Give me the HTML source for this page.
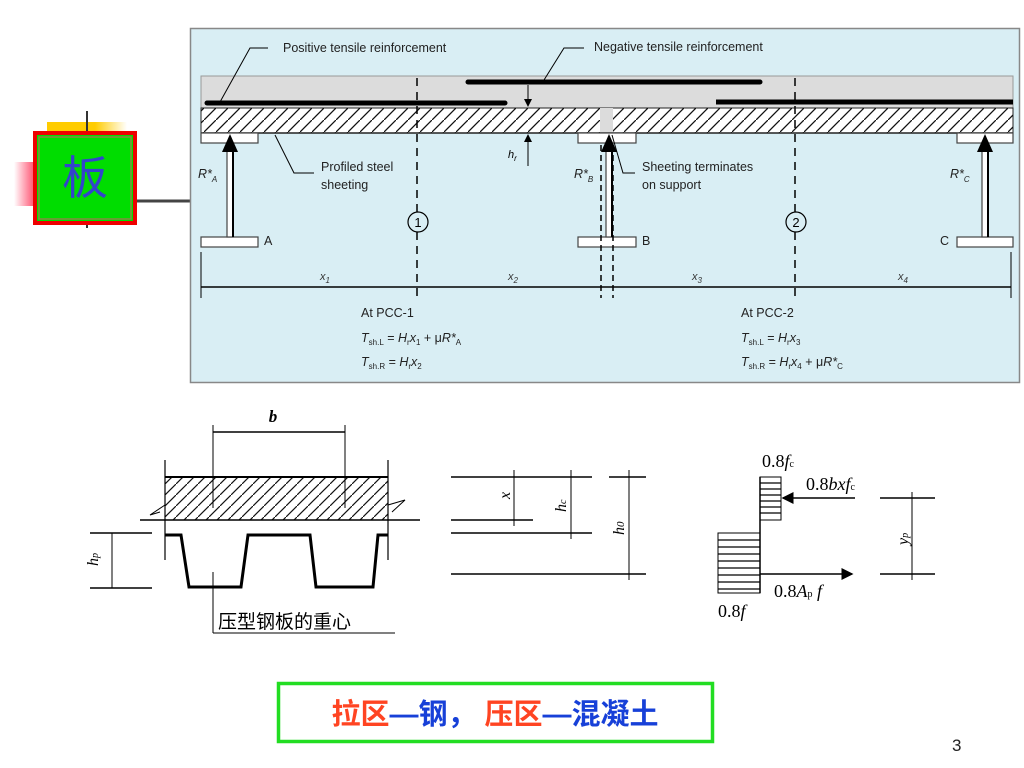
<!DOCTYPE html>
<html><head><meta charset="utf-8"><style>
body{margin:0;background:#fff}
svg{display:block}
text{font-family:"Liberation Sans","Noto Sans CJK SC",sans-serif}
text.s,.s text{font-family:"Liberation Serif","Noto Serif CJK SC",serif}
</style></head><body>
<svg width="1024" height="768" viewBox="0 0 1024 768" xmlns="http://www.w3.org/2000/svg">
<defs>
<pattern id="h" width="12" height="12" patternUnits="userSpaceOnUse">
<path d="M0,12 L12,0" stroke="#111" stroke-width="1.3"/>
</pattern>
<pattern id="h2" width="11" height="11" patternUnits="userSpaceOnUse">
<path d="M-1,12 L12,-1" stroke="#111" stroke-width="1.2"/>
</pattern>
<linearGradient id="pk" x1="1" x2="0"><stop offset="0" stop-color="#f46"/><stop offset="1" stop-color="#fff"/></linearGradient>
<linearGradient id="yl" x1="0" x2="1"><stop offset="0.6" stop-color="#fc0"/><stop offset="1" stop-color="#fff"/></linearGradient>
<marker id="ar" markerWidth="8" markerHeight="8" refX="7" refY="4" orient="auto"><path d="M0,0 L8,4 L0,8z" fill="#000"/></marker>
</defs>

<rect x="14" y="162" width="22" height="44" fill="url(#pk)"/>
<rect x="47" y="122" width="80" height="10" fill="url(#yl)"/>
<line x1="87" y1="111" x2="87" y2="228" stroke="#333" stroke-width="2"/>
<line x1="136" y1="201" x2="190" y2="201" stroke="#444" stroke-width="3"/>
<rect x="35" y="133" width="100" height="90" fill="#0d0" stroke="#e00" stroke-width="4"/>
<rect x="39" y="137" width="92" height="82" fill="none" stroke="#884" stroke-width="1.5"/>
<text x="85" y="194" font-size="46" fill="#3344cc" text-anchor="middle" font-family="Noto Sans CJK SC">板</text>

<rect x="190.5" y="28.5" width="829" height="354" fill="#d9eef4" stroke="#888" stroke-width="1.5"/>
<rect x="201" y="76" width="812" height="32" fill="#dcdcdc" stroke="#999"/>
<rect x="201" y="108" width="812" height="25" fill="#fff" stroke="#222"/>
<rect x="201" y="108" width="812" height="25" fill="url(#h)"/>
<rect x="600" y="108" width="13" height="25" fill="#dcdcdc"/>
<line x1="201" y1="133" x2="1013" y2="133" stroke="#222" stroke-width="1.5"/>
<line x1="207" y1="103" x2="505" y2="103" stroke="#000" stroke-width="5" stroke-linecap="round"/>
<line x1="716" y1="102" x2="1013" y2="102" stroke="#000" stroke-width="5"/>
<line x1="468" y1="82" x2="760" y2="82" stroke="#000" stroke-width="5" stroke-linecap="round"/>
<g fill="#fff" stroke="#444" stroke-width="1.2">
<rect x="201" y="133" width="57" height="10"/><rect x="578" y="133" width="58" height="10"/><rect x="957" y="133" width="56" height="10"/>
<rect x="201" y="237" width="57" height="10"/><rect x="578" y="237" width="58" height="10"/><rect x="957" y="237" width="56" height="10"/>
<rect x="227" y="150" width="6" height="87"/><rect x="606" y="150" width="6" height="87"/><rect x="982" y="150" width="6" height="87"/>
</g>
<g fill="#000"><path d="M222,152 L230,134 L238,152z"/><path d="M601,152 L609,134 L617,152z"/><path d="M977,152 L985,134 L993,152z"/></g>
<line x1="233" y1="150" x2="233" y2="237" stroke="#000" stroke-width="2"/>
<line x1="612" y1="150" x2="612" y2="237" stroke="#000" stroke-width="2"/>
<line x1="988" y1="150" x2="988" y2="237" stroke="#000" stroke-width="2"/>
<g stroke="#000" stroke-width="1.5" stroke-dasharray="6,4">
<line x1="601" y1="145" x2="601" y2="298"/><line x1="613" y1="145" x2="613" y2="298"/>
<line x1="417" y1="78" x2="417" y2="300" stroke-dasharray="8,6"/><line x1="795" y1="78" x2="795" y2="300" stroke-dasharray="8,6"/>
</g>
<circle cx="418" cy="222" r="10" fill="#d9eef4" stroke="#000" stroke-width="1.2"/>
<circle cx="796" cy="222" r="10" fill="#d9eef4" stroke="#000" stroke-width="1.2"/>
<text x="418" y="227" font-size="13" text-anchor="middle">1</text>
<text x="796" y="227" font-size="13" text-anchor="middle">2</text>
<line x1="201" y1="287" x2="1011" y2="287" stroke="#000" stroke-width="1.5"/>
<line x1="201" y1="252" x2="201" y2="298" stroke="#000"/>
<line x1="1011" y1="252" x2="1011" y2="298" stroke="#000"/>
<g font-size="11" font-style="italic" fill="#333"><text x="320" y="280">x<tspan font-size="8" dy="3">1</tspan></text><text x="508" y="280">x<tspan font-size="8" dy="3">2</tspan></text><text x="692" y="280">x<tspan font-size="8" dy="3">3</tspan></text><text x="898" y="280">x<tspan font-size="8" dy="3">4</tspan></text></g>
<line x1="528" y1="85" x2="528" y2="106" stroke="#000" marker-end="url(#ar)"/>
<line x1="528" y1="166" x2="528" y2="135" stroke="#000" marker-end="url(#ar)"/>
<text x="508" y="158" font-size="11" font-style="italic">h<tspan font-size="8" dy="3">r</tspan></text>
<path d="M268,48 L250,48 L220,102" fill="none" stroke="#000"/>
<path d="M584,48 L564,48 L544,80" fill="none" stroke="#000"/>
<path d="M314,173 L294,173 L275,135" fill="none" stroke="#000"/>
<path d="M635,173 L623,173 L612,135" fill="none" stroke="#000"/>
<g font-size="12.5" fill="#222">
<text x="283" y="52">Positive tensile reinforcement</text>
<text x="594" y="51">Negative tensile reinforcement</text>
<text x="321" y="171">Profiled steel</text><text x="321" y="189">sheeting</text>
<text x="642" y="171">Sheeting terminates</text><text x="642" y="189">on support</text>
<text x="264" y="245">A</text><text x="642" y="245">B</text><text x="940" y="245">C</text>
<text x="198" y="178" font-style="italic">R*<tspan font-size="8" dy="4">A</tspan></text>
<text x="574" y="178" font-style="italic">R*<tspan font-size="8" dy="4">B</tspan></text>
<text x="950" y="178" font-style="italic">R*<tspan font-size="8" dy="4">C</tspan></text>
<text x="361" y="317">At PCC-1</text>
<text x="361" y="342"><tspan font-style="italic">T</tspan><tspan font-size="8" dy="3">sh.L</tspan><tspan dy="-3"> = </tspan><tspan font-style="italic">H</tspan><tspan font-size="8" dy="3">r</tspan><tspan dy="-3" font-style="italic">x</tspan><tspan font-size="8" dy="3">1</tspan><tspan dy="-3"> + μ</tspan><tspan font-style="italic">R*</tspan><tspan font-size="8" dy="3">A</tspan></text>
<text x="361" y="366"><tspan font-style="italic">T</tspan><tspan font-size="8" dy="3">sh.R</tspan><tspan dy="-3"> = </tspan><tspan font-style="italic">H</tspan><tspan font-size="8" dy="3">r</tspan><tspan dy="-3" font-style="italic">x</tspan><tspan font-size="8" dy="3">2</tspan></text>
<text x="741" y="317">At PCC-2</text>
<text x="741" y="342"><tspan font-style="italic">T</tspan><tspan font-size="8" dy="3">sh.L</tspan><tspan dy="-3"> = </tspan><tspan font-style="italic">H</tspan><tspan font-size="8" dy="3">r</tspan><tspan dy="-3" font-style="italic">x</tspan><tspan font-size="8" dy="3">3</tspan></text>
<text x="741" y="366"><tspan font-style="italic">T</tspan><tspan font-size="8" dy="3">sh.R</tspan><tspan dy="-3"> = </tspan><tspan font-style="italic">H</tspan><tspan font-size="8" dy="3">r</tspan><tspan dy="-3" font-style="italic">x</tspan><tspan font-size="8" dy="3">4</tspan><tspan dy="-3"> + μ</tspan><tspan font-style="italic">R*</tspan><tspan font-size="8" dy="3">C</tspan></text>
</g>

<rect x="165" y="477" width="223" height="43" fill="url(#h2)"/>
<line x1="165" y1="477" x2="388" y2="477" stroke="#000" stroke-width="2"/>
<line x1="140" y1="520" x2="420" y2="520" stroke="#000" stroke-width="1.5"/>
<line x1="165" y1="460" x2="165" y2="560" stroke="#000" stroke-width="1.2"/>
<line x1="388" y1="460" x2="388" y2="560" stroke="#000" stroke-width="1.2"/>
<path d="M165,505 L150,515 L160,512" fill="none" stroke="#000"/>
<path d="M388,505 L405,500 L392,512" fill="none" stroke="#000"/>
<path d="M165,535 L181,535 L189,587 L241,587 L248,535 L310,535 L316,587 L373,587 L378,535 L388,535" fill="none" stroke="#000" stroke-width="3"/>
<line x1="213" y1="425" x2="213" y2="508" stroke="#000"/><line x1="345" y1="425" x2="345" y2="508" stroke="#000"/>
<line x1="213" y1="432" x2="345" y2="432" stroke="#000" stroke-width="1.5"/>
<text x="273" y="422" class="s" font-size="17" font-style="italic" font-weight="bold" text-anchor="middle">b</text>
<line x1="90" y1="533" x2="152" y2="533" stroke="#000" stroke-width="1.5"/>
<line x1="90" y1="588" x2="152" y2="588" stroke="#000" stroke-width="1.5"/>
<line x1="112" y1="533" x2="112" y2="588" stroke="#000"/>
<text x="98" y="566" class="s" font-size="16" font-style="italic" transform="rotate(-90 98 566)">h<tspan font-size="10">p</tspan></text>
<line x1="213" y1="572" x2="213" y2="633" stroke="#000"/>
<line x1="213" y1="633" x2="395" y2="633" stroke="#000"/>
<text x="218" y="628" font-size="19" font-family="Noto Serif CJK SC">压型钢板的重心</text>

<g stroke="#000" stroke-width="1.5">
<line x1="451" y1="477" x2="592" y2="477"/><line x1="609" y1="477" x2="646" y2="477"/>
<line x1="451" y1="520" x2="533" y2="520"/><line x1="451" y1="533" x2="592" y2="533"/><line x1="451" y1="574" x2="646" y2="574"/>
<line x1="514" y1="470" x2="514" y2="526" stroke-width="1"/><line x1="571" y1="470" x2="571" y2="539" stroke-width="1"/><line x1="629" y1="470" x2="629" y2="580" stroke-width="1"/>
</g>
<text x="510" y="499" class="s" font-size="16" font-style="italic" transform="rotate(-90 510 499)">x</text>
<text x="566" y="512" class="s" font-size="16" font-style="italic" transform="rotate(-90 566 512)">h<tspan font-size="10">c</tspan></text>
<text x="624" y="535" class="s" font-size="16" font-style="italic" transform="rotate(-90 624 535)">h<tspan font-size="11">0</tspan></text>

<rect x="760" y="477" width="21" height="43" fill="#fff" stroke="#000"/>
<rect x="718" y="533" width="42" height="60" fill="#fff" stroke="#000"/>
<g stroke="#000" stroke-width="1.2">
<path d="M760,483h21M760,489h21M760,495h21M760,501h21M760,507h21M760,513h21"/>
<path d="M718,540h42M718,547h42M718,554h42M718,561h42M718,568h42M718,575h42M718,582h42M718,589h42"/>
</g>
<line x1="760" y1="477" x2="760" y2="593" stroke="#000" stroke-width="1.5"/>
<line x1="855" y1="498" x2="783" y2="498" stroke="#000" stroke-width="1.5" marker-end="url(#ar)"/>
<line x1="760" y1="574" x2="852" y2="574" stroke="#000" stroke-width="1.5" marker-end="url(#ar)"/>
<line x1="880" y1="498" x2="935" y2="498" stroke="#000" stroke-width="1.5"/>
<line x1="880" y1="574" x2="935" y2="574" stroke="#000" stroke-width="1.5"/>
<line x1="912" y1="492" x2="912" y2="580" stroke="#000"/>
<g class="s" font-size="18">
<text x="762" y="467">0.8<tspan font-style="italic">f</tspan><tspan font-size="10">c</tspan></text>
<text x="806" y="490">0.8<tspan font-style="italic">bxf</tspan><tspan font-size="10">c</tspan></text>
<text x="774" y="597">0.8<tspan font-style="italic">A</tspan><tspan font-size="10">p</tspan><tspan font-style="italic"> f</tspan></text>
<text x="718" y="617">0.8<tspan font-style="italic">f</tspan></text>
</g>
<text x="908" y="545" class="s" font-size="16" font-style="italic" transform="rotate(-90 908 545)">y<tspan font-size="10">p</tspan></text>

<rect x="278.5" y="683.5" width="434" height="58" fill="#fff" stroke="#2d2" stroke-width="3.5"/>
<text x="495" y="724" font-size="29" font-weight="bold" text-anchor="middle" font-family="Noto Sans CJK SC"><tspan fill="#f42">拉区</tspan><tspan fill="#1740d8">—钢，  </tspan><tspan fill="#f42">压区</tspan><tspan fill="#1740d8">—混凝土</tspan></text>
<text x="952" y="751" font-size="17" fill="#222">3</text>
</svg>
</body></html>
